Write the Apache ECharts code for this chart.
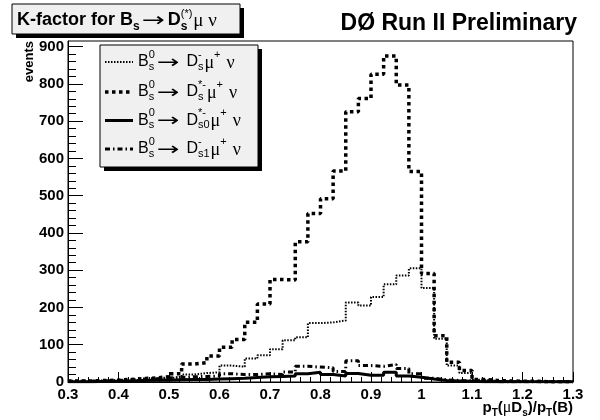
<!DOCTYPE html>
<html><head><meta charset="utf-8">
<script src="https://cdn.jsdelivr.net/npm/echarts@6/dist/echarts.min.js"></script>
<style>html,body{margin:0;padding:0;background:#fff}#c{width:600px;height:420px}</style>
</head><body><div id="c"></div>
<script>
// ---------------- data ----------------
const binLow = [0.300,0.325,0.350,0.375,0.400,0.425,0.450,0.475,0.500,0.525,0.550,0.575,0.600,0.625,0.650,0.675,0.700,0.725,0.750,0.775,0.800,0.825,0.850,0.875,0.900,0.925,0.950,0.975,1.000,1.025,1.050,1.075,1.100,1.125,1.150,1.175,1.200,1.225,1.250,1.275];
const binHighEnd = 1.3;
const dsValues     = [1,2,2,3,4,5,7,10,14,20,24,26,44,41,63,72,88,112,120,158,160,165,213,205,228,262,286,305,252,116,44,24,6,3,2,1,1,1,1,0];
const dsStarValues = [3,3,4,5,7,9,11,14,22,48,52,70,93,114,160,209,275,274,376,452,492,566,725,761,826,875,797,565,291,124,53,31,7,4,3,2,2,1,1,1];
const ds0StarValues= [1,1,2,2,3,4,5,5,6,7,7,8,9,10,12,14,15,16,22,26,20,16,23,18,18,26,16,13,8,4,3,2,1,1,1,1,1,1,1,1];
const ds1Values    = [2,3,3,4,6,8,9,11,12,14,15,16,22,20,20,22,20,27,42,40,38,28,57,44,42,47,36,22,10,6,4,3,2,1,1,1,1,1,1,1];
const yMajorTicks = [0,100,200,300,400,500,600,700,800,900];
const yMinorStep = 20;
const yMax = 915;

// ---------------- helpers ----------------
const SANS = "'Liberation Sans', Arial, Helvetica, sans-serif";
const SERIF = "'Liberation Serif', 'Times New Roman', serif";
const ARROWF = "'DejaVu Sans', sans-serif";
const mctx = document.createElement('canvas').getContext('2d');
function fontStr(p){ return (p.w||'normal')+' '+p.s+'px '+(p.f||SANS); }
function measure(p){ mctx.font = fontStr(p); return mctx.measureText(p.t).width * (p.sx||1); }
function compose(x0, yMid, parts, alignRight){
  const els = [];
  function layout(start){
    let cur = start, prevX = start, out = [];
    parts.forEach(p => {
      const w = measure(p);
      let x;
      if (p.stack) { x = prevX; } else { x = cur + (p.dx||0); prevX = x; }
      cur = Math.max(cur, x + w);
      out.push({p, x});
    });
    return {out, end: cur};
  }
  let L = layout(x0);
  if (alignRight) L = layout(x0 - (L.end - x0));
  L.out.forEach(o => {
    els.push({type:'text', x:o.x, y:yMid + (o.p.dy||0), scaleX:o.p.sx||1, silent:true, z:100,
      style:{text:o.p.t, fill:'#000', fontSize:o.p.s, fontFamily:o.p.f||SANS, fontWeight:o.p.w||'normal',
             align:'left', verticalAlign:'middle'}});
  });
  return els;
}
function toHist(vals){
  const d = binLow.map((x,i)=>[x, vals[i]]);
  d.push([binHighEnd, vals[vals.length-1]]);
  return d;
}
const yMinorTicks = [];
for (let v = 0; v < yMajorTicks[yMajorTicks.length-1]; v += yMinorStep) if (v % 100 !== 0) yMinorTicks.push(v);

const styles = {
  ds:     {width:2,   type:[1.5,1.5]},
  dsStar: {width:3.5, type:[3.5,3.5]},
  ds0:    {width:3,   type:'solid'},
  ds1:    {width:3,   type:[5,3,1.5,3]}
};

// ---------------- graphics (title, legend, axis titles) ----------------
const g = [];
// title box
g.push({type:'rect', shape:{x:16,y:8,width:228,height:30}, style:{fill:'#000'}, silent:true, z:90});
g.push({type:'rect', shape:{x:12,y:4,width:228,height:30}, style:{fill:'#f0f0f0', stroke:'#000', lineWidth:1}, silent:true, z:91});
compose(17, 20, [
  {t:'K-factor for B', s:18, w:'bold'},
  {t:'s', s:12, w:'bold', dy:7},
  {t:'\u2192', s:19, f:ARROWF, sx:1.45, dx:2, dy:1},
  {t:'D', s:18, w:'bold', dx:3},
  {t:'(*)', s:11, dy:-6.5},
  {t:'s', s:12, w:'bold', dy:7, stack:true},
  {t:'\u03bc', s:19, f:SERIF, dx:1, dy:1},
  {t:' \u03bd', s:19, f:SERIF, dy:1}
]).forEach(e=>g.push(e));
// experiment label
g.push({type:'text', x:577, y:24, silent:true, z:100,
  style:{text:'D\u00d8 Run II Preliminary', fill:'#000', fontSize:23, fontWeight:'bold', fontFamily:SANS, align:'right', verticalAlign:'middle'}});

// legend box
g.push({type:'rect', shape:{x:104,y:49,width:158,height:122}, style:{fill:'#000'}, silent:true, z:90});
g.push({type:'rect', shape:{x:100,y:45,width:158,height:122}, style:{fill:'#f0f0f0', stroke:'#000', lineWidth:1}, silent:true, z:91});
const legendRows = [
  {key:'ds',     sup:'-',  sub:'s'},
  {key:'dsStar', sup:'*-', sub:'s'},
  {key:'ds0',    sup:'*-', sub:'s0'},
  {key:'ds1',    sup:'-',  sub:'s1'}
];
const rowY = [62, 92, 120.5, 149];
legendRows.forEach((r,i)=>{
  const st = styles[r.key];
  g.push({type:'line', shape:{x1:105,y1:rowY[i],x2:133,y2:rowY[i]}, silent:true, z:95,
    style:{stroke:'#000', lineWidth:st.width, lineDash: st.type==='solid'?null:st.type}});
  compose(138, rowY[i], [
    {t:'B', s:16},
    {t:'0', s:11, dy:-7.5},
    {t:'s', s:11, dy:4.5, stack:true},
    {t:'\u2192', s:18, f:ARROWF, sx:1.5, dx:2, dy:1},
    {t:'D', s:16, dx:7},
    {t:r.sup, s:11, dy:-7.5},
    {t:r.sub, s:11, dy:4.5, stack:true},
    {t:'\u03bc', s:18, f:SERIF, dx:1, dy:1},
    {t:'+', s:11, dy:-7.5},
    {t:'\u03bd', s:18, f:SERIF, dx:6, dy:1}
  ]).forEach(e=>g.push(e));
});

// y axis title
g.push({type:'text', x:29, y:41, rotation:Math.PI/2, silent:true, z:100,
  style:{text:'events', fill:'#000', fontSize:13, fontWeight:'bold', fontFamily:SANS, align:'right', verticalAlign:'middle'}});
// x axis title
compose(573, 408, [
  {t:'p', s:15, w:'bold'},
  {t:'T', s:10, w:'bold', dy:5},
  {t:'(', s:15, w:'bold'},
  {t:'\u03bc', s:16, f:SERIF},
  {t:'D', s:15, w:'bold'},
  {t:'s', s:10, w:'bold', dy:5},
  {t:')/p', s:15, w:'bold'},
  {t:'T', s:10, w:'bold', dy:5},
  {t:'(B)', s:15, w:'bold'}
], true).forEach(e=>g.push(e));

// ---------------- chart ----------------
const chart = echarts.init(document.getElementById('c'), null, {renderer:'canvas'});
function ser(name, vals, st, z){
  return {type:'line', name, data:toHist(vals), step:'end', showSymbol:false, symbol:'none', silent:true, z,
    lineStyle:{color:'#000', width:st.width, type:st.type}, emphasis:{disabled:true}, animation:false};
}
chart.setOption({
  animation:false,
  textStyle:{fontFamily:SANS},
  grid:{left:68, right:27, top:41, bottom:38, show:true, borderColor:'#000', borderWidth:1, containLabel:false},
  xAxis:{type:'value', min:0.3, max:1.3, interval:0.1,
    axisLine:{show:true, lineStyle:{color:'#000', width:1}},
    axisTick:{show:true, inside:true, length:10, lineStyle:{color:'#000'}},
    minorTick:{show:true, splitNumber:5, length:5, lineStyle:{color:'#000'}},
    splitLine:{show:false}, minorSplitLine:{show:false},
    axisLabel:{color:'#000', fontSize:15, fontWeight:'bold', margin:5, fontFamily:SANS}},
  yAxis:[
    {type:'value', min:0, max:yMax, position:'left',
      axisLine:{show:true, lineStyle:{color:'#000', width:1}},
      axisTick:{show:true, inside:true, length:15, lineStyle:{color:'#000'}, customValues:yMajorTicks},
      axisLabel:{color:'#000', fontSize:15, fontWeight:'bold', margin:4, fontFamily:SANS, customValues:yMajorTicks},
      splitLine:{show:false}},
    {type:'value', min:0, max:yMax, position:'left',
      axisLine:{show:false},
      axisTick:{show:true, inside:true, length:8, lineStyle:{color:'#000'}, customValues:yMinorTicks},
      axisLabel:{show:false},
      splitLine:{show:false}}
  ],
  series:[
    ser('B_s^0 \u2192 D_s^- \u03bc^+ \u03bd', dsValues, styles.ds, 3),
    ser('B_s^0 \u2192 D_s^*- \u03bc^+ \u03bd', dsStarValues, styles.dsStar, 4),
    ser('B_s^0 \u2192 D_s0^*- \u03bc^+ \u03bd', ds0StarValues, styles.ds0, 5),
    ser('B_s^0 \u2192 D_s1^- \u03bc^+ \u03bd', ds1Values, styles.ds1, 6)
  ],
  graphic: g
});
</script></body></html>
